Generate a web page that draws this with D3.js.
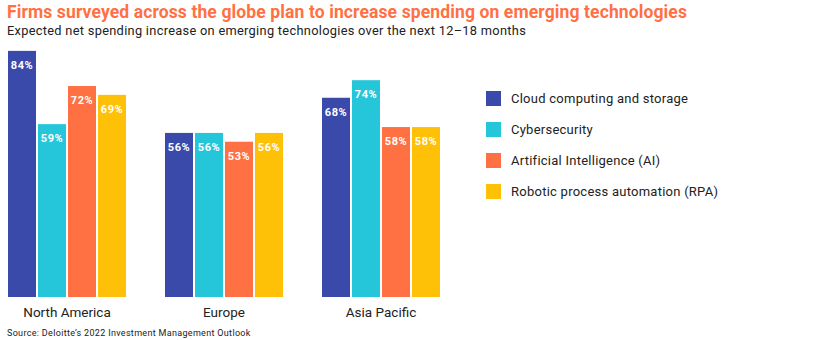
<!DOCTYPE html>
<html><head><meta charset="utf-8">
<script src="https://cdn.jsdelivr.net/npm/d3@7"></script>
<style>
body{margin:0;background:#fff;}
text{font-family:Roboto,"Noto Sans",sans-serif;}
</style></head>
<body><svg id="chart" width="830" height="340"></svg>
<script>
const regions = ["North America", "Europe", "Asia Pacific"];
const seriesNames = ["Cloud computing and storage", "Cybersecurity", "Artificial Intelligence (AI)", "Robotic process automation (RPA)"];
const cloud = [84, 56, 68];
const cyber = [59, 56, 74];
const ai = [72, 53, 58];
const rpa = [69, 56, 58];
const colors = ["#3A4AAB", "#26C6DA", "#FF7043", "#FFC107"];
const title = "Firms surveyed across the globe plan to increase spending on emerging technologies";
const subtitle = "Expected net spending increase on emerging technologies over the next 12\u201318 months";
const source = "Source: Deloitte\u2019s 2022 Investment Management Outlook";

const series = [cloud, cyber, ai, rpa];
const svg = d3.select("#chart");

const x0 = d3.scaleBand().domain(regions).range([8, 440]).paddingInner(39/157).paddingOuter(0);
const x1 = d3.scaleBand().domain(d3.range(4)).range([0, x0.bandwidth()]).paddingInner(2/30).paddingOuter(0);
const y = d3.scaleLinear().domain([0, 100]).range([297, 4]);

svg.append("text").attr("x", 7).attr("y", 18).attr("fill", "#FF7043")
  .attr("font-size", 17.5).attr("font-weight", 700).attr("letter-spacing", 0.12).text(title);
svg.append("text").attr("x", 7).attr("y", 35).attr("fill", "#222")
  .attr("font-size", 12.8).attr("letter-spacing", 0.3).text(subtitle);

const g = svg.append("g");
regions.forEach((r, i) => {
  const gg = g.append("g").attr("transform", `translate(${x0(r)},0)`);
  series.forEach((s, j) => {
    gg.append("rect").attr("x", x1(j)).attr("width", x1.bandwidth())
      .attr("y", y(s[i])).attr("height", y(0) - y(s[i])).attr("fill", colors[j]);
    gg.append("text").attr("x", x1(j) + x1.bandwidth()/2).attr("y", y(s[i]) + 18)
      .attr("text-anchor", "middle").attr("fill", "#fff").attr("font-size", 11)
      .attr("font-weight", 700).attr("letter-spacing", 0.5).text(s[i] + "%");
  });
});

const xAxis = svg.append("g").attr("transform", "translate(0,297)")
  .call(d3.axisBottom(x0).tickSize(0).tickPadding(10));
xAxis.select(".domain").remove();
xAxis.selectAll("text").attr("font-size", 13.5).attr("fill", "#222")
  .style("font-family", "Roboto,'Noto Sans',sans-serif");

const leg = svg.append("g");
seriesNames.forEach((n, j) => {
  leg.append("rect").attr("x", 486).attr("y", 91 + j*31).attr("width", 15).attr("height", 15).attr("fill", colors[j]);
  leg.append("text").attr("x", 511).attr("y", 98.5 + j*31).attr("dy", "0.35em")
    .attr("font-size", 13).attr("letter-spacing", 0.25).attr("fill", "#222").text(n);
});

svg.append("text").attr("x", 7).attr("y", 336).attr("font-size", 9).attr("letter-spacing", 0.32).attr("fill", "#222").text(source);
</script></body></html>
